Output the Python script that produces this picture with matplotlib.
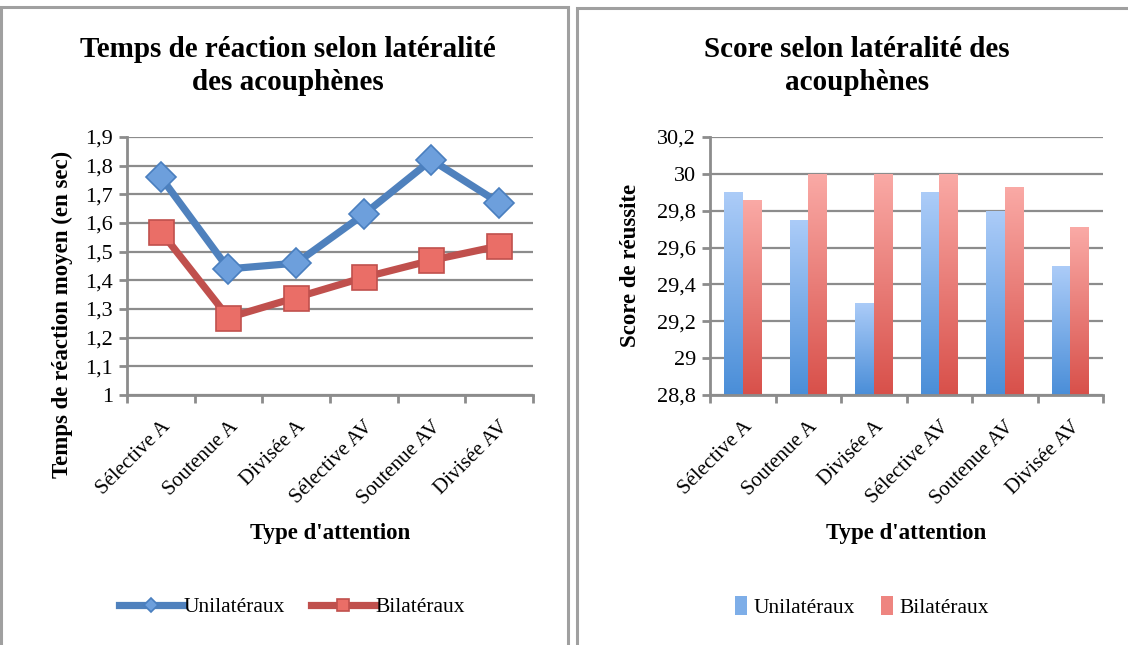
import numpy as np
import matplotlib
matplotlib.use("Agg")
import matplotlib.pyplot as plt
from matplotlib.patches import Rectangle
from matplotlib.colors import LinearSegmentedColormap
from matplotlib.ticker import FixedLocator, FuncFormatter, NullFormatter

# data
categories = ["Sélective A", "Soutenue A", "Divisée A",
              "Sélective AV", "Soutenue AV", "Divisée AV"]
series = ["Unilatéraux", "Bilatéraux"]
rt_uni = [1.76, 1.44, 1.46, 1.63, 1.82, 1.67]
rt_bil = [1.57, 1.27, 1.34, 1.41, 1.47, 1.52]
score_uni = [29.90, 29.75, 29.30, 29.90, 29.80, 29.50]
score_bil = [29.86, 30.00, 30.00, 30.00, 29.93, 29.71]
SCORE_MIN = 28.8

SERIF = "Liberation Serif"
GRID = "#8c8c8c"
BLUE = "#4f81bd"
RED = "#c0504d"

plt.rcParams["font.family"] = [SERIF, "DejaVu Serif"]

fig = plt.figure(figsize=(11.28, 6.45), dpi=100)
W, H = 1128, 645


def fx(px):
    return px / W


def fy(py):
    return 1 - py / H


# panel frames
fig.add_artist(Rectangle((fx(1), fy(660)), fx(567), fy(7) - fy(660),
                         transform=fig.transFigure, fill=False,
                         ec="#a0a0a0", lw=2.2))
fig.add_artist(Rectangle((fx(577), fy(660)), fx(560), fy(8) - fy(660),
                         transform=fig.transFigure, fill=False,
                         ec="#a0a0a0", lw=2.2))

comma = FuncFormatter(lambda v, p: ("%g" % round(v, 2)).replace(".", ","))


def style_axes(ax, n):
    ax.set_xlim(-0.5, n - 0.5)
    for s in ("top", "right"):
        ax.spines[s].set_visible(False)
    for s in ("left", "bottom"):
        ax.spines[s].set_color(GRID)
        ax.spines[s].set_linewidth(2)
    ax.yaxis.grid(True, color=GRID, lw=1.6)
    ax.set_axisbelow(True)
    ax.xaxis.set_major_locator(FixedLocator(np.arange(n + 1) - 0.5))
    ax.xaxis.set_major_formatter(NullFormatter())
    ax.xaxis.set_minor_locator(FixedLocator(np.arange(n)))
    ax.set_xticklabels(categories, minor=True, rotation=45, ha="right",
                       rotation_mode="anchor", fontsize=15)
    ax.tick_params(axis="x", which="major", direction="out", length=6,
                   width=2, color=GRID)
    ax.tick_params(axis="x", which="minor", length=0, pad=16)
    ax.tick_params(axis="y", direction="out", length=6, width=2, color=GRID,
                   labelsize=16, pad=4)
    ax.yaxis.set_major_formatter(comma)
    ax.set_xlabel("Type d'attention", fontsize=16.5, fontweight="bold")
    ax.xaxis.set_label_coords(0.5, -128 / 258, transform=ax.transAxes)


# left: line chart
x = np.arange(len(categories))
ax1 = fig.add_axes([fx(127), fy(395), fx(533) - fx(127), fy(137) - fy(395)])
ax1.plot(x, rt_uni, color=BLUE, lw=5.2, marker="D", ms=15,
         mfc="#6d9fdc", mec="#4a7fbf", mew=1.2, label=series[0], zorder=3)
ax1.plot(x, rt_bil, color=RED, lw=5.2, marker="s", ms=18,
         mfc="#ea6e67", mec="#c0504d", mew=1.2, label=series[1], zorder=3)
ax1.set_ylim(1, 1.9)
ax1.set_yticks(np.arange(1.0, 1.95, 0.1))
style_axes(ax1, len(categories))
ax1.set_ylabel("Temps de réaction moyen (en sec)", fontsize=16.5,
               fontweight="bold")
ax1.yaxis.set_label_coords((73 - 127) / 406, (395 - 314) / 258)
ax1.legend(loc="center", bbox_to_anchor=(fx(292), fy(607)),
           bbox_transform=fig.transFigure, ncol=2, frameon=False,
           fontsize=15.5, handlelength=3.0, handletextpad=0.0,
           columnspacing=1.2, markerscale=0.5, borderpad=0)
fig.text(fx(288), fy(66), "Temps de réaction selon latéralité\ndes acouphènes",
         ha="center", va="center", fontsize=21, fontweight="bold",
         linespacing=1.3)

# right: bar chart with vertical gradient fill
ax2 = fig.add_axes([fx(710), fy(395), fx(1103) - fx(710), fy(137) - fy(395)])
style_axes(ax2, len(categories))
bw = 0.28
grads = [
    LinearSegmentedColormap.from_list("b", ["#4a8ed8", "#acccf8"]),
    LinearSegmentedColormap.from_list("r", ["#d8504a", "#faaaa6"]),
]
solid = ["#7eaee8", "#ee8580"]
grad_img = np.linspace(0, 1, 256).reshape(-1, 1)
for k, vals in enumerate([score_uni, score_bil]):
    heights = np.array(vals) - SCORE_MIN
    bars = ax2.bar(x + (k - 0.5) * bw, heights, bw, bottom=SCORE_MIN,
                   color=solid[k], label=series[k], zorder=2)
    for b in bars:
        x0, y0 = b.get_x(), b.get_y()
        im = ax2.imshow(grad_img, cmap=grads[k], origin="lower",
                        extent=(x0, x0 + b.get_width(), y0,
                                y0 + b.get_height()),
                        aspect="auto", zorder=2.5)
        im.set_clip_path(b)
ax2.set_xlim(-0.5, len(categories) - 0.5)
ax2.set_ylim(28.8, 30.2)
ax2.set_yticks(np.arange(28.8, 30.25, 0.2))
ax2.set_ylabel("Score de réussite", fontsize=16.5, fontweight="bold")
ax2.yaxis.set_label_coords((641 - 710) / 393, (395 - 265) / 258)
ax2.legend(loc="center", bbox_to_anchor=(fx(862), fy(607)),
           bbox_transform=fig.transFigure, ncol=2, frameon=False,
           fontsize=15.5, handlelength=0.55, handleheight=1.0,
           handletextpad=0.3, columnspacing=1.2, borderpad=0)
fig.text(fx(857), fy(66), "Score selon latéralité des\nacouphènes",
         ha="center", va="center", fontsize=21, fontweight="bold",
         linespacing=1.3)

fig.savefig("out.png", dpi=100)
